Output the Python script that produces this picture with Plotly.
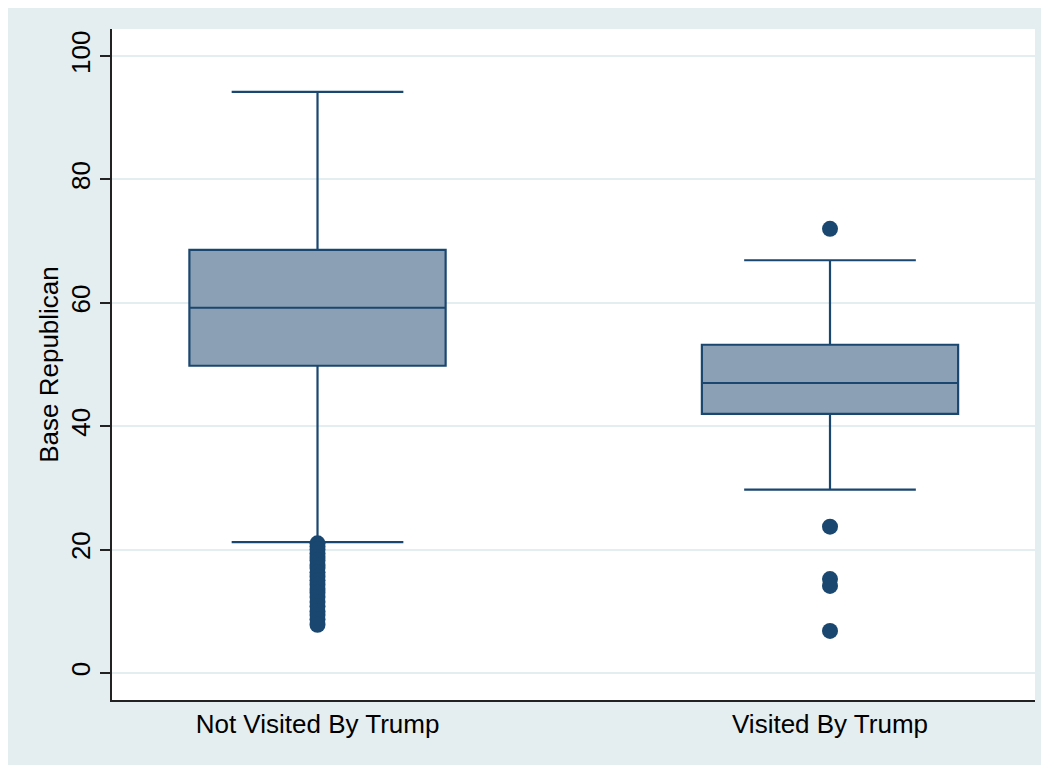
import plotly.graph_objects as go

categories = ["Not Visited By Trump", "Visited By Trump"]
q1 = [49.8, 42.0]
median = [59.2, 47.0]
q3 = [68.6, 53.2]
lower_fence = [21.2, 29.7]
upper_fence = [94.2, 66.9]

outliers_not_visited = [21.0, 20.5, 20.0, 19.4, 18.8, 18.2, 17.5, 17.0, 16.3, 15.6,
                        15.0, 14.3, 13.6, 13.0, 12.3, 11.5, 10.8, 10.0, 9.4, 8.7, 7.8]
outliers_visited = [72.0, 23.7, 15.2, 14.1, 6.8]

y_ticks = [0, 20, 40, 60, 80, 100]

NAVY = "#1a476f"
BOX_FILL = "#8ca0b5"
BG = "#e4edef"
GRID = "#e4edef"
FONT = "Liberation Sans, Arial, sans-serif"

fig = go.Figure()
fig.add_trace(go.Box(
    x=categories, q1=q1, median=median, q3=q3,
    lowerfence=lower_fence, upperfence=upper_fence,
    boxpoints=False, fillcolor=BOX_FILL,
    line=dict(color=NAVY, width=2.2), width=0.5, whiskerwidth=0.67,
    showlegend=False,
))

out_x = [categories[0]] * len(outliers_not_visited) + [categories[1]] * len(outliers_visited)
out_y = outliers_not_visited + outliers_visited
fig.add_trace(go.Scatter(
    x=out_x, y=out_y, mode="markers",
    marker=dict(color=NAVY, size=16, line=dict(width=0)),
    showlegend=False,
))

W, H = 1041, 757
L, R, T, B = 104, 14, 21, 65

fig.update_layout(
    width=W, height=H,
    margin=dict(l=L, r=R, t=T, b=B, pad=0),
    paper_bgcolor=BG, plot_bgcolor="white",
    font=dict(family=FONT, size=26, color="black"),
    xaxis=dict(
        type="category", range=[-0.401, 1.4],
        showline=True, linecolor="#222", linewidth=1.5,
        ticks="", showgrid=False, zeroline=False,
        tickfont=dict(size=26),
    ),
    yaxis=dict(
        range=[-4.4, 104.4], tickvals=y_ticks, ticktext=[str(v) for v in y_ticks],
        tickangle=-90, ticks="outside", ticklen=10, tickwidth=1.5, tickcolor="#222",
        showline=True, linecolor="#222", linewidth=1.5,
        showgrid=True, gridcolor=GRID, gridwidth=1.5, zeroline=False,
        title=dict(text="Base Republican", font=dict(size=26), standoff=0),
        tickfont=dict(size=26),
    ),
)

fig.write_html("out.html")
